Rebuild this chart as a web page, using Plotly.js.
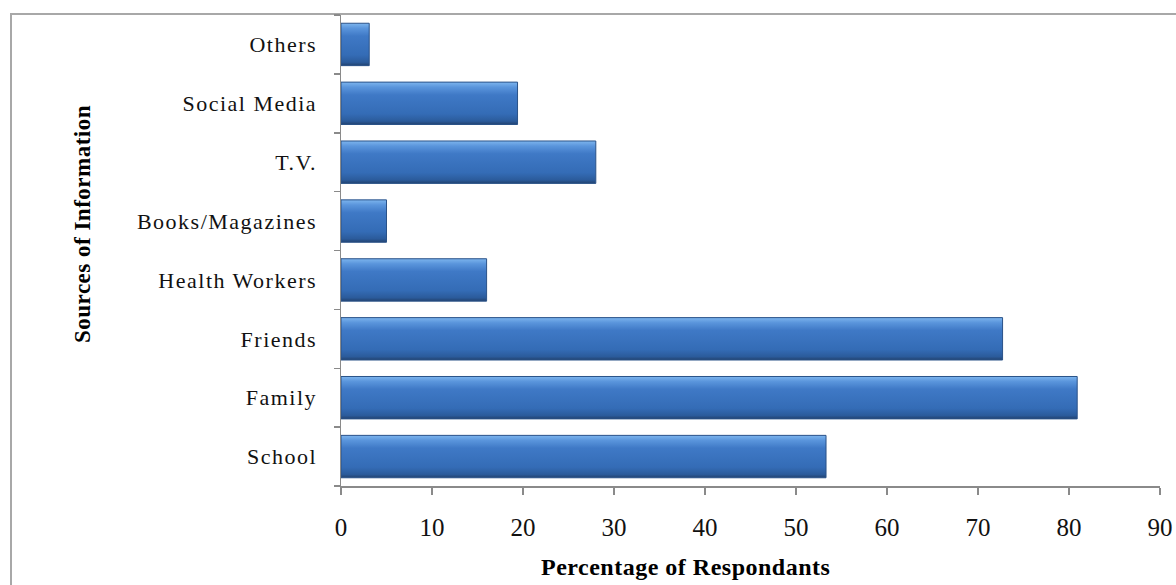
<!DOCTYPE html>
<html>
<head>
<meta charset="utf-8">
<script src="https://cdn.plot.ly/plotly-3.0.1.min.js"></script>
<style>
  html, body { margin: 0; padding: 0; background: #ffffff; }
  #frame { position: absolute; left: 10px; top: 13px; width: 1300px; height: 700px;
           border-left: 2px solid #a8a8a8; border-top: 2px solid #a8a8a8; }
  #chart { position: absolute; left: 0; top: 0; width: 1176px; height: 585px; }
  .ytick text { letter-spacing: 1.5px; }
  .annotation-text { letter-spacing: 0.5px; }
</style>
</head>
<body>
<div id="frame"></div>
<div id="chart"></div>
<script>
const categories = ["School", "Family", "Friends", "Health Workers", "Books/Magazines", "T.V.", "Social Media", "Others"];
const percentages = [53.3, 80.9, 72.7, 16, 5, 28, 19.4, 3.1];
const xTickValues = [0, 10, 20, 30, 40, 50, 60, 70, 80, 90];
const xTitle = "Percentage of Respondants";
const yTitle = "Sources of Information";

const serif = "Liberation Serif, DejaVu Serif, serif";

const data = [{
  type: "bar",
  orientation: "h",
  y: categories,
  x: percentages,
  marker: { color: "#3c74bf", line: { color: "#2a5288", width: 1 } },
  hoverinfo: "x+y"
}];

const layout = {
  width: 1176, height: 585,
  margin: { l: 341, r: 16, t: 15, b: 99 },
  paper_bgcolor: "rgba(0,0,0,0)",
  plot_bgcolor: "rgba(0,0,0,0)",
  bargap: 0.28,
  showlegend: false,
  font: { family: serif, color: "#000000" },
  xaxis: {
    range: [0, 90],
    tickvals: xTickValues,
    ticktext: xTickValues.map(String),
    showgrid: false, zeroline: false,
    showline: true, linecolor: "#8a8a8a", linewidth: 1.5,
    ticks: "outside", ticklen: 7, tickcolor: "#8a8a8a", tickwidth: 1.5,
    ticklabelstandoff: 11,
    tickfont: { family: serif, size: 25, color: "#111111" },
    fixedrange: true
  },
  yaxis: {
    type: "category",
    categoryorder: "array", categoryarray: categories,
    showgrid: false, zeroline: false,
    showline: true, linecolor: "#8a8a8a", linewidth: 1.5,
    ticks: "outside", ticklen: 6, tickcolor: "#8a8a8a", tickwidth: 1.5,
    tickson: "boundaries",
    ticklabelstandoff: 18,
    tickfont: { family: serif, size: 22, color: "#111111" },
    fixedrange: true
  },
  annotations: [
    { text: "<b>" + xTitle + "</b>", xref: "paper", yref: "paper",
      x: (685 - 341) / 819, y: -81 / 471, xanchor: "center", yanchor: "middle",
      showarrow: false, font: { family: serif, size: 24, color: "#000000" } },
    { text: "<b>" + yTitle + "</b>", xref: "paper", yref: "paper",
      x: (82 - 341) / 819, y: (486 - 224) / 471, xanchor: "center", yanchor: "middle",
      textangle: -90, showarrow: false, font: { family: serif, size: 23, color: "#000000" } }
  ]
};

Plotly.newPlot("chart", data, layout, { displayModeBar: false, staticPlot: true }).then(function (gd) {
  const svgNS = "http://www.w3.org/2000/svg";
  const defs = gd.querySelector(".main-svg defs");
  if (defs) {
    const grad = document.createElementNS(svgNS, "linearGradient");
    grad.setAttribute("id", "barGrad");
    grad.setAttribute("x1", "0"); grad.setAttribute("y1", "0");
    grad.setAttribute("x2", "0"); grad.setAttribute("y2", "1");
    [["0", "#7db5ee"], ["0.12", "#5a95dc"], ["0.3", "#3f79c6"], ["0.75", "#346cb6"], ["0.92", "#2b5b9b"], ["1", "#22426f"]]
      .forEach(function (s) {
        const stop = document.createElementNS(svgNS, "stop");
        stop.setAttribute("offset", s[0]);
        stop.setAttribute("stop-color", s[1]);
        grad.appendChild(stop);
      });
    defs.appendChild(grad);
    gd.querySelectorAll(".bars .point path").forEach(function (p) {
      p.style.fill = "url(#barGrad)";
    });
  }
});
</script>
</body>
</html>
